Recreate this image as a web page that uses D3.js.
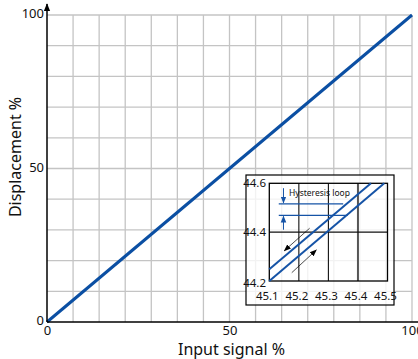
<!DOCTYPE html>
<html>
<head>
<meta charset="utf-8">
<script src="https://cdn.jsdelivr.net/npm/d3@7"></script>
<style>
  body { margin: 0; background: #fff; }
  svg { display: block; font-family: "Noto Sans", sans-serif; }
</style>
</head>
<body>
<div class="canvas"></div>
<script>
// main chart data
const mainX = [0, 100];
const mainY = [0, 100];
const xTicks = [0, 50, 100];
const yTicks = [0, 50, 100];
const xGridCount = 14;
const yGridCount = 10;

// inset (hysteresis detail)
const insetXTicks = [45.1, 45.2, 45.3, 45.4, 45.5];
const insetYTicks = [44.2, 44.4, 44.6];
const upLineX = [45.1, 45.444];
const upLineY = [44.248, 44.6];
const downLineX = [45.1, 45.489];
const downLineY = [44.2, 44.6];
const levelY = [44.516, 44.469];
const levelX0 = [45.132, 45.132];
const levelX1 = [45.35, 45.365];
const insetLabel = "Hysteresis loop";

const width = 418, height = 359;
const margin = { top: 15, right: 6, bottom: 37, left: 47 };

const svg = d3.select('.canvas').append('svg')
  .attr("width", width)
  .attr("height", height);

const defs = svg.append('defs');
function marker(id, color, size) {
  defs.append('marker')
    .attr("id", id)
    .attr("viewBox", "0 0 10 10")
    .attr("refX", 9).attr("refY", 5)
    .attr("markerWidth", size).attr("markerHeight", size)
    .attr("markerUnits", "userSpaceOnUse")
    .attr("orient", "auto")
    .append('path')
    .attr("d", "M0,1 L10,5 L0,9 Z")
    .attr("fill", color);
}
marker("arrBlue", "#1553a6", 7);
marker("arrBlack", "#000", 7);
marker("arrAxis", "#000", 8);

const x = d3.scaleLinear().domain([0, 100]).range([margin.left, width - margin.right]);
const y = d3.scaleLinear().domain([0, 100]).range([height - margin.bottom, margin.top]);

// grid
const grid = svg.append('g');
grid.selectAll('line.v')
  .data(d3.range(1, xGridCount + 1).map(i => i * 100 / xGridCount))
  .enter().append('line')
  .attr("x1", d => x(d)).attr("x2", d => x(d))
  .attr("y1", y(0)).attr("y2", y(100))
  .attr("stroke", "#c4c4c4").attr("stroke-width", 1.3);
grid.selectAll('line.h')
  .data(d3.range(1, yGridCount + 1).map(i => i * 100 / yGridCount))
  .enter().append('line')
  .attr("x1", x(0)).attr("x2", x(100))
  .attr("y1", d => y(d)).attr("y2", d => y(d))
  .attr("stroke", "#c4c4c4").attr("stroke-width", 1.3);

// main line
svg.append('path')
  .datum(mainX.map((d, i) => [d, mainY[i]]))
  .attr("d", d3.line().x(d => x(d[0])).y(d => y(d[1])))
  .attr("fill", "none")
  .attr("stroke", "#0b4fa3")
  .attr("stroke-width", 3);

// axes
const xAxisG = svg.append('g')
  .attr("transform", `translate(0 ${y(0)})`)
  .call(d3.axisBottom(x).tickValues(xTicks).tickSize(0).tickPadding(4));
const yAxisG = svg.append('g')
  .attr("transform", `translate(${x(0)} 0)`)
  .call(d3.axisLeft(y).tickValues(yTicks).tickSize(0).tickPadding(3));
[xAxisG, yAxisG].forEach(g => {
  g.select('.domain').remove();
  g.selectAll('text').attr("font-size", 13).attr("font-family", "Noto Sans").attr("fill", "#111");
});
yAxisG.selectAll('text').attr("dy", "0.2em");

svg.append('line')
  .attr("x1", x(0)).attr("x2", width)
  .attr("y1", y(0)).attr("y2", y(0))
  .attr("stroke", "#000").attr("stroke-width", 1.5);
svg.append('line')
  .attr("x1", x(0)).attr("x2", x(0))
  .attr("y1", y(0)).attr("y2", 4)
  .attr("stroke", "#000").attr("stroke-width", 1.5)
  .attr("marker-end", "url(#arrAxis)");

// axis titles
svg.append('text')
  .attr("x", (x(0) + x(100)) / 2 + 2)
  .attr("y", 355)
  .attr("text-anchor", "middle")
  .attr("font-size", 16)
  .attr("fill", "#111")
  .text("Input signal %");
svg.append('text')
  .attr("transform", `translate(21 ${157}) rotate(-90)`)
  .attr("text-anchor", "middle")
  .attr("font-size", 16)
  .attr("fill", "#111")
  .text("Displacement %");

// inset
const inset = svg.append('g');
inset.append('rect')
  .attr("x", 246).attr("y", 175)
  .attr("width", 148).attr("height", 130)
  .attr("fill", "#fff").attr("fill-opacity", 0.78)
  .attr("stroke", "#000").attr("stroke-width", 1.2);

const ix = d3.scaleLinear().domain([45.1, 45.5]).range([269.3, 387.5]);
const iy = d3.scaleLinear().domain([44.2, 44.6]).range([281, 183.3]);

inset.selectAll('line.ig')
  .data(insetXTicks.slice(1, 4))
  .enter().append('line')
  .attr("x1", d => ix(d)).attr("x2", d => ix(d))
  .attr("y1", iy(44.2)).attr("y2", iy(44.6))
  .attr("stroke", (d, i) => i === 2 ? "#555" : "#111")
  .attr("stroke-width", (d, i) => i === 2 ? 2 : 1.1);
inset.append('line')
  .attr("x1", ix(45.1)).attr("x2", ix(45.5))
  .attr("y1", iy(44.4)).attr("y2", iy(44.4))
  .attr("stroke", "#111").attr("stroke-width", 1.1);
inset.append('rect')
  .attr("x", ix(45.1)).attr("y", iy(44.6))
  .attr("width", ix(45.5) - ix(45.1)).attr("height", iy(44.2) - iy(44.6))
  .attr("fill", "none").attr("stroke", "#000").attr("stroke-width", 1.3);

inset.selectAll('text.ixl')
  .data(insetXTicks)
  .enter().append('text')
  .attr("x", d => ix(d) - 2)
  .attr("y", 300)
  .attr("text-anchor", "middle")
  .attr("font-size", 11.5)
  .attr("fill", "#111")
  .text(d => d.toFixed(1));
inset.selectAll('text.iyl')
  .data(insetYTicks)
  .enter().append('text')
  .attr("x", 266)
  .attr("y", d => iy(d) + (d === 44.2 ? 6 : 4))
  .attr("text-anchor", "end")
  .attr("font-size", 11.5)
  .attr("fill", "#111")
  .text(d => d.toFixed(1));

const iline = d3.line().x(d => ix(d[0])).y(d => iy(d[1]));
[[upLineX, upLineY], [downLineX, downLineY]].forEach(([xs, ys]) => {
  inset.append('path')
    .datum(xs.map((d, i) => [d, ys[i]]))
    .attr("d", iline)
    .attr("fill", "none")
    .attr("stroke", "#1553a6")
    .attr("stroke-width", 2);
});
levelY.forEach((v, i) => {
  inset.append('line')
    .attr("x1", ix(levelX0[i])).attr("x2", ix(levelX1[i]))
    .attr("y1", iy(v)).attr("y2", iy(v))
    .attr("stroke", "#1553a6").attr("stroke-width", 1.2);
});

// little arrows showing the gap
inset.append('line')
  .attr("x1", ix(45.148)).attr("x2", ix(45.148))
  .attr("y1", iy(44.58)).attr("y2", iy(levelY[0]) - 1)
  .attr("stroke", "#1553a6").attr("stroke-width", 1)
  .attr("marker-end", "url(#arrBlue)");
inset.append('line')
  .attr("x1", ix(45.148)).attr("x2", ix(45.148))
  .attr("y1", iy(44.41)).attr("y2", iy(levelY[1]) + 1)
  .attr("stroke", "#1553a6").attr("stroke-width", 1)
  .attr("marker-end", "url(#arrBlue)");
inset.append('text')
  .attr("x", 289)
  .attr("y", 195.5)
  .attr("font-size", 8.5)
  .attr("fill", "#111")
  .text(insetLabel);

// direction arrows
inset.append('line')
  .attr("x1", ix(45.2365)).attr("y1", iy(44.416))
  .attr("x2", ix(45.151)).attr("y2", iy(44.324))
  .attr("stroke", "#000").attr("stroke-width", 0.7)
  .attr("marker-end", "url(#arrBlack)");
inset.append('line')
  .attr("x1", ix(45.176)).attr("y1", iy(44.234))
  .attr("x2", ix(45.259)).attr("y2", iy(44.327))
  .attr("stroke", "#000").attr("stroke-width", 0.7)
  .attr("marker-end", "url(#arrBlack)");
</script>
</body>
</html>
